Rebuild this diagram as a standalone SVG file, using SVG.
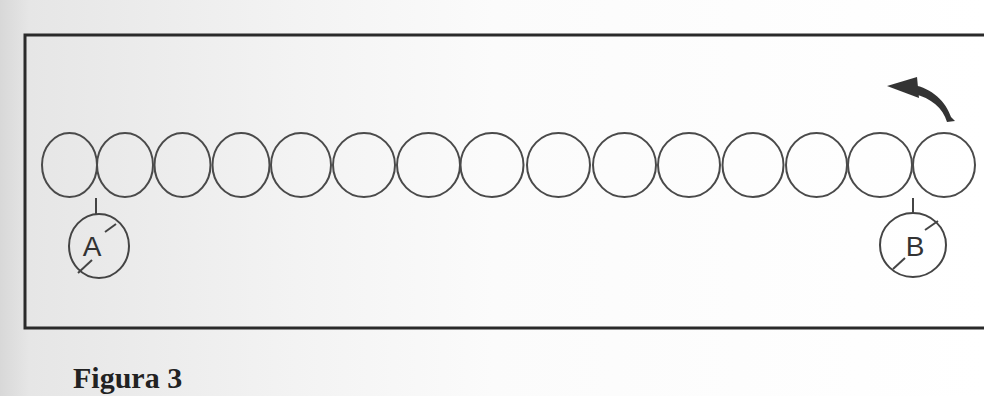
<svg xmlns="http://www.w3.org/2000/svg" width="984" height="396" viewBox="0 0 984 396">
<defs>
<linearGradient id="bg" x1="0" y1="0" x2="1" y2="0">
<stop offset="0" stop-color="#d8d8d8"/>
<stop offset="0.03" stop-color="#e6e6e6"/>
<stop offset="0.3" stop-color="#f3f3f3"/>
<stop offset="0.5" stop-color="#fbfbfb"/>
<stop offset="1" stop-color="#ffffff"/>
</linearGradient>
<style>
.c{fill:none;stroke:#4a4a4a;stroke-width:2}
.t{fill:none;stroke:#444;stroke-width:2}
.lbl{font-family:"Liberation Sans",Arial,sans-serif;font-size:28px;fill:#333;text-anchor:middle}
</style>
</defs>
<rect x="0" y="0" width="984" height="396" fill="url(#bg)"/>
<rect x="25" y="35" width="975" height="293" fill="none" stroke="#2a2a2a" stroke-width="3"/>
<g id="circles">
<ellipse id="c1" class="c" cx="69.5" cy="165" rx="27.5" ry="32"/>
<ellipse id="c2" class="c" cx="125" cy="165" rx="28" ry="32"/>
<ellipse id="c3" class="c" cx="182.5" cy="165" rx="28" ry="32"/>
<ellipse id="c4" class="c" cx="241" cy="165" rx="28.5" ry="32"/>
<ellipse id="c5" class="c" cx="301" cy="165" rx="30" ry="32"/>
<ellipse id="c6" class="c" cx="364" cy="165" rx="31" ry="32"/>
<ellipse id="c7" class="c" cx="428.5" cy="165" rx="31.5" ry="32"/>
<ellipse id="c8" class="c" cx="492" cy="165" rx="31.5" ry="32"/>
<ellipse id="c9" class="c" cx="558.5" cy="165" rx="31.5" ry="32"/>
<ellipse id="c10" class="c" cx="624.5" cy="165" rx="31.5" ry="32"/>
<ellipse id="c11" class="c" cx="689" cy="165" rx="31" ry="32"/>
<ellipse id="c12" class="c" cx="753" cy="165" rx="30.5" ry="32"/>
<ellipse id="c13" class="c" cx="816.5" cy="165" rx="30.5" ry="32"/>
<ellipse id="c14" class="c" cx="880" cy="165" rx="32" ry="32"/>
<ellipse id="c15" class="c" cx="944" cy="165" rx="31" ry="32"/>
</g>
<g id="connectors">
<line class="t" x1="96" y1="198" x2="96" y2="214"/>
<line class="t" x1="913" y1="198" x2="913" y2="213"/>
</g>
<g id="nodeA">
<ellipse class="t" cx="99" cy="246" rx="30" ry="32"/>
<line class="t" x1="78" y1="273" x2="92" y2="260"/>
<line class="t" x1="105" y1="232" x2="116" y2="224"/>
<text class="lbl" x="92" y="256">A</text>
</g>
<g id="nodeB">
<ellipse class="t" cx="913" cy="245" rx="33" ry="32"/>
<line class="t" x1="893" y1="269" x2="905" y2="258"/>
<line class="t" x1="925" y1="230" x2="938" y2="221"/>
<text class="lbl" x="915" y="256">B</text>
</g>
<g id="arrow">
<path d="M913,85 C932,88 946,102 951,117 L955,121 L947,122 C943,108 931,98 914,94 Z" fill="#333"/>
<path d="M887,86 L917,77 L919,98 Z" fill="#333"/>
</g>
<text x="73" y="388" font-family="'Liberation Serif','Times New Roman',serif" font-weight="bold" font-size="30" fill="#222">Figura 3</text>
</svg>
